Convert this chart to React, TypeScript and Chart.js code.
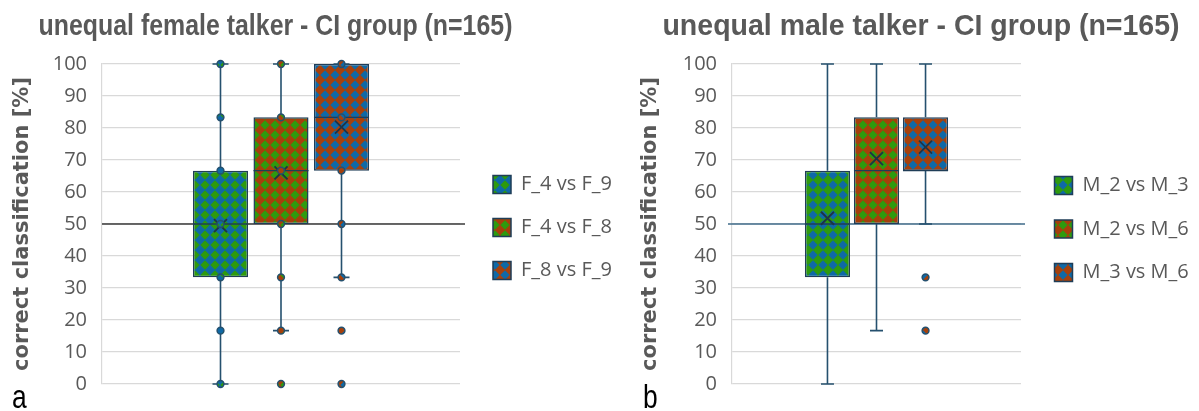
import React, { useEffect, useRef } from "react";
import { Chart, registerables } from "chart.js";

Chart.register(...registerables);

// ---------- colours ----------
const BLUE = "#0f69a6";
const GREEN = "#2e9a0e";
const ORANGE = "#a6400b";
const NAVY = "#1f3d57";
const WHISKER = "#25506e";
const TEXT_GREY = "#595959";
const GRID = "#d9d9d9";

// ---------- axis ----------
const yMin = 0;
const yMax = 100;
const yStep = 10;
const yTitle = "correct classification [%]";
const chanceLevel = 50;

// ---------- panel a : female talker ----------
const femaleTitle = "unequal female talker - CI group (n=165)";
const femaleSeries = ["F_4 vs F_9", "F_4 vs F_8", "F_8 vs F_9"];
const femaleMin = [0, 16.67, 33.33];
const femaleQ1 = [33.33, 50, 66.67];
const femaleMedian = [50, 66.67, 83.33];
const femaleQ3 = [66.67, 83.33, 100];
const femaleMax = [100, 100, 100];
const femaleMean = [49.5, 66, 80.3];
const femaleInnerPoints = [
  [0, 16.67, 33.33, 50, 66.67, 83.33, 100],
  [16.67, 33.33, 50, 66.67, 83.33, 100],
  [33.33, 50, 66.67, 83.33, 100],
];
const femaleOutliers = [[], [0], [0, 16.67]];

// ---------- panel b : male talker ----------
const maleTitle = "unequal male talker - CI group (n=165)";
const maleSeries = ["M_2 vs M_3", "M_2 vs M_6", "M_3 vs M_6"];
const maleMin = [0, 16.67, 50];
const maleQ1 = [33.33, 50, 66.67];
const maleMedian = [50, 66.67, 66.67];
const maleQ3 = [66.67, 83.33, 83.33];
const maleMax = [100, 100, 100];
const maleMean = [51.8, 70.4, 74];
const maleInnerPoints: number[][] = [[], [], []];
const maleOutliers = [[], [], [16.67, 33.33]];

const H = 411;
const LEGEND_FONT = "20px 'Open Sans'";
const GAP = 10;

function makePattern(bg: string, fg: string): CanvasPattern | string {
  const c = document.createElement("canvas");
  c.width = 10;
  c.height = 10;
  const g = c.getContext("2d");
  if (!g) return bg;
  g.fillStyle = bg;
  g.fillRect(0, 0, 10, 10);
  g.fillStyle = fg;
  g.beginPath();
  g.moveTo(5, 0.3);
  g.lineTo(9.7, 5);
  g.lineTo(5, 9.7);
  g.lineTo(0.3, 5);
  g.closePath();
  g.fill();
  return g.createPattern(c, "repeat") || bg;
}

function measure(texts: string[], font: string) {
  const c = document.createElement("canvas").getContext("2d");
  if (!c) return 100;
  c.font = font;
  return Math.max(...texts.map((t) => c.measureText(t).width));
}

type PanelCfg = {
  left: number;
  width: number;
  title: string;
  titleCenter: number;
  titleScale: number;
  letter: string;
  letterX: number;
  series: string[];
  colors: [string, string][];
  min: number[];
  q1: number[];
  median: number[];
  q3: number[];
  max: number[];
  mean: number[];
  inner: number[][];
  outliers: number[][];
  plotLeft: number;
  plotRight: number;
  plotTop: number;
  plotBottom: number;
  barPct: number;
  catPct: number;
  capW: number;
  chanceColor: string;
  chanceExt: [number, number];
  legendPad: number;
};

const panelA: PanelCfg = {
  left: 0,
  width: 628,
  title: femaleTitle,
  titleCenter: 275.5,
  titleScale: 0.83,
  letter: "a",
  letterX: 12,
  series: femaleSeries,
  colors: [
    [BLUE, GREEN],
    [ORANGE, GREEN],
    [ORANGE, BLUE],
  ],
  min: femaleMin,
  q1: femaleQ1,
  median: femaleMedian,
  q3: femaleQ3,
  max: femaleMax,
  mean: femaleMean,
  inner: femaleInnerPoints,
  outliers: femaleOutliers,
  plotLeft: 102,
  plotRight: 460,
  plotTop: 64,
  plotBottom: 391,
  barPct: 0.91,
  catPct: 0.507,
  capW: 16,
  chanceColor: "#3a3a3a",
  chanceExt: [0, 5],
  legendPad: 23,
};

const panelB: PanelCfg = {
  left: 628,
  width: 571,
  title: maleTitle,
  titleCenter: 293,
  titleScale: 0.95,
  letter: "b",
  letterX: 15,
  series: maleSeries,
  colors: [
    [GREEN, BLUE],
    [ORANGE, GREEN],
    [ORANGE, BLUE],
  ],
  min: maleMin,
  q1: maleQ1,
  median: maleMedian,
  q3: maleQ3,
  max: maleMax,
  mean: maleMean,
  inner: maleInnerPoints,
  outliers: maleOutliers,
  plotLeft: 104,
  plotRight: 393,
  plotTop: 64,
  plotBottom: 394,
  barPct: 0.92,
  catPct: 0.509,
  capW: 13,
  chanceColor: "#3f6b8a",
  chanceExt: [-4, 4],
  legendPad: 23.5,
};

function makeBoxPlugin(cfg: PanelCfg) {
  return {
    id: "boxExtras",
    beforeDatasetsDraw(chart: any) {
      const ctx = chart.ctx;
      const y = chart.scales.y.getPixelForValue(chanceLevel);
      ctx.save();
      ctx.strokeStyle = cfg.chanceColor;
      ctx.lineWidth = 1.4;
      ctx.beginPath();
      ctx.moveTo(chart.chartArea.left + cfg.chanceExt[0], y);
      ctx.lineTo(chart.chartArea.right + cfg.chanceExt[1], y);
      ctx.stroke();
      ctx.restore();
    },
    afterDatasetsDraw(chart: any) {
      const ctx = chart.ctx;
      const ys = chart.scales.y;
      chart.data.datasets.forEach((ds: any, i: number) => {
        const bar = chart.getDatasetMeta(i).data[0];
        if (!bar) return;
        const x = bar.x;
        const w = bar.width;
        const yq1 = ys.getPixelForValue(cfg.q1[i]);
        const yq3 = ys.getPixelForValue(cfg.q3[i]);
        const ymin = ys.getPixelForValue(cfg.min[i]);
        const ymax = ys.getPixelForValue(cfg.max[i]);
        const ymed = ys.getPixelForValue(cfg.median[i]);
        const ymean = ys.getPixelForValue(cfg.mean[i]);
        ctx.save();
        ctx.strokeStyle = WHISKER;
        ctx.lineWidth = 1.6;
        ctx.beginPath();
        ctx.moveTo(x, yq3);
        ctx.lineTo(x, ymax);
        ctx.moveTo(x, yq1);
        ctx.lineTo(x, ymin);
        ctx.moveTo(x - cfg.capW / 2, ymax);
        ctx.lineTo(x + cfg.capW / 2, ymax);
        ctx.moveTo(x - cfg.capW / 2, ymin);
        ctx.lineTo(x + cfg.capW / 2, ymin);
        ctx.stroke();
        // median
        ctx.strokeStyle = NAVY;
        ctx.lineWidth = 1.4;
        ctx.beginPath();
        ctx.moveTo(x - w / 2, ymed);
        ctx.lineTo(x + w / 2, ymed);
        ctx.stroke();
        // mean cross
        const m = 6.5;
        ctx.strokeStyle = "#1d3346";
        ctx.lineWidth = 1.8;
        ctx.beginPath();
        ctx.moveTo(x - m, ymean - m);
        ctx.lineTo(x + m, ymean + m);
        ctx.moveTo(x + m, ymean - m);
        ctx.lineTo(x - m, ymean + m);
        ctx.stroke();
        // points
        const pts = [...cfg.inner[i], ...cfg.outliers[i]];
        pts.forEach((v) => {
          const py = ys.getPixelForValue(v);
          ctx.beginPath();
          ctx.arc(x, py, 3.4, 0, Math.PI * 2);
          ctx.fillStyle = ds.backgroundColor;
          ctx.fill();
          ctx.strokeStyle = WHISKER;
          ctx.lineWidth = 1.5;
          ctx.stroke();
        });
        ctx.restore();
      });
    },
    afterLayout(chart: any) {
      // keep a small gap between the plot area and the legend
      if (chart.legend) {
        chart.legend.left += GAP;
        chart.legend.right += GAP;
      }
    },
    afterDraw(chart: any) {
      const ctx = chart.ctx;
      ctx.save();
      ctx.fillStyle = TEXT_GREY;
      ctx.font = "bold 30px 'Liberation Sans', Arial, sans-serif";
      ctx.textAlign = "center";
      ctx.textBaseline = "alphabetic";
      ctx.translate(cfg.titleCenter, 35);
      ctx.scale(cfg.titleScale, 1);
      ctx.fillText(cfg.title, 0, 0);
      ctx.restore();
      ctx.save();
      ctx.fillStyle = "#000000";
      ctx.font = "33px 'Liberation Sans', Arial, sans-serif";
      ctx.textAlign = "left";
      ctx.translate(cfg.letterX, 408);
      ctx.scale(0.8, 1);
      ctx.fillText(cfg.letter, 0, 0);
      ctx.restore();
    },
  };
}

function BoxPanel({ cfg }: { cfg: PanelCfg }) {
  const ref = useRef<HTMLCanvasElement | null>(null);
  useEffect(() => {
    if (!ref.current) return;
    const tw = measure(cfg.series, LEGEND_FONT);
    const legendW = cfg.legendPad + 18 + 10 + tw + 10;
    const padRight = Math.max(0, cfg.width - cfg.plotRight - legendW);
    const chart = new Chart(ref.current, {
      type: "bar",
      data: {
        labels: [""],
        datasets: cfg.series.map((s, i) => ({
          label: s,
          data: [[cfg.q1[i], cfg.q3[i]]] as any,
          backgroundColor: makePattern(cfg.colors[i][0], cfg.colors[i][1]) as any,
          borderColor: NAVY,
          borderWidth: 1.5,
          borderSkipped: false,
          barPercentage: cfg.barPct,
          categoryPercentage: cfg.catPct,
        })),
      },
      options: {
        responsive: false,
        animation: false,
        layout: {
          padding: { top: cfg.plotTop, bottom: H - cfg.plotBottom, left: 0, right: padRight },
        },
        scales: {
          x: { display: false },
          y: {
            min: yMin,
            max: yMax,
            ticks: {
              stepSize: yStep,
              color: TEXT_GREY,
              font: { family: "'Open Sans'", size: 20 },
              padding: 15,
            },
            grid: { color: GRID, lineWidth: 1.2, drawTicks: false },
            border: { color: GRID, width: 1.2 },
            title: {
              display: true,
              text: yTitle,
              color: TEXT_GREY,
              font: { family: "'DejaVu Sans'", weight: "bold", size: 21 },
              padding: { top: 10, bottom: 0 },
            },
            afterFit: (s: any) => {
              s.width = cfg.plotLeft;
            },
          },
        } as any,
        plugins: {
          legend: {
            position: "right",
            align: "center",
            maxWidth: 400,
            labels: {
              boxWidth: 18,
              boxHeight: 18,
              padding: cfg.legendPad,
              color: TEXT_GREY,
              font: { family: "'Open Sans'", size: 20 },
            },
          } as any,
          tooltip: { enabled: false },
        },
      },
      plugins: [makeBoxPlugin(cfg)],
    });
    return () => chart.destroy();
  }, [cfg]);
  return (
    <canvas
      ref={ref}
      width={cfg.width}
      height={H}
      style={{ position: "absolute", left: cfg.left, top: 0, width: cfg.width, height: H }}
    />
  );
}

export default function App() {
  return (
    <div
      style={{
        position: "fixed",
        left: 0,
        top: 0,
        width: 1199,
        height: H,
        background: "#ffffff",
        overflow: "hidden",
      }}
    >
      <BoxPanel cfg={panelA} />
      <BoxPanel cfg={panelB} />
    </div>
  );
}
